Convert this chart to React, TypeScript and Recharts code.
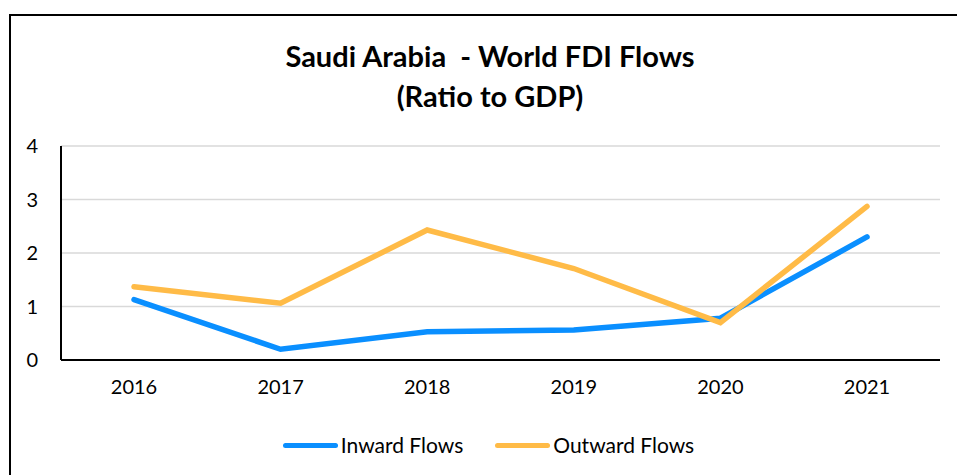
import React from "react";
import { LineChart, Line, XAxis, YAxis, CartesianGrid } from "recharts";

const years = ["2016", "2017", "2018", "2019", "2020", "2021"];
const inwardFlows = [1.13, 0.2, 0.53, 0.56, 0.78, 2.3];
const outwardFlows = [1.37, 1.06, 2.43, 1.71, 0.7, 2.87];
const yTicks = [0, 1, 2, 3, 4];

const data = years.map((y, i) => ({ year: y, inward: inwardFlows[i], outward: outwardFlows[i] }));

const FONT = "Lato, 'Open Sans', sans-serif";
const BLUE = "#0A8FFF";
const ORANGE = "#FFBB47";

const LegendItem = ({ color, label, mr }: { color: string; label: string; mr: number }) => (
  <div style={{ display: "flex", alignItems: "center", marginRight: mr }}>
    <div style={{ width: 55, height: 5, borderRadius: 3, background: color, marginRight: 3 }} />
    <span>{label}</span>
  </div>
);

export default function App() {
  return (
    <div style={{ position: "absolute", left: 0, top: 0, width: 957, height: 475, overflow: "hidden", background: "#fff" }}>
      <div style={{ position: "absolute", left: 9, top: 14, width: 1000, height: 500, borderTop: "2px solid #000", borderLeft: "2px solid #000" }} />
      <div style={{ position: "absolute", left: 0, top: 0 }}>
        <LineChart width={957} height={475} data={data} margin={{ top: 146, right: 17, bottom: 85, left: 0 }}>
          <CartesianGrid horizontal={true} vertical={false} stroke="#D9D9D9" strokeWidth={1.5} />
          <XAxis
            dataKey="year"
            height={30}
            padding={{ left: 73, right: 73 }}
            axisLine={{ stroke: "#000", strokeWidth: 2 }}
            tickLine={false}
            tickSize={0}
            tickMargin={20}
            tick={{ fill: "#000", fontSize: 20, fontFamily: FONT }}
          />
          <YAxis
            width={61}
            domain={[0, 4]}
            ticks={yTicks}
            axisLine={{ stroke: "#000", strokeWidth: 2 }}
            tickLine={false}
            tickSize={0}
            tickMargin={23}
            tick={{ fill: "#000", fontSize: 20, fontFamily: FONT }}
          />
          <Line dataKey="inward" name="Inward Flows" stroke={BLUE} strokeWidth={5.5} dot={false} isAnimationActive={false} strokeLinecap="round" />
          <Line dataKey="outward" name="Outward Flows" stroke={ORANGE} strokeWidth={5.5} dot={false} isAnimationActive={false} strokeLinecap="round" />
        </LineChart>
      </div>
      <div style={{ position: "absolute", left: 0, top: 430, width: 977, display: "flex", justifyContent: "center", alignItems: "center", fontFamily: FONT, fontSize: 21, lineHeight: "30px", color: "#000" }}>
        <LegendItem color={BLUE} label="Inward Flows" mr={32} />
        <LegendItem color={ORANGE} label="Outward Flows" mr={0} />
      </div>
      <div style={{ position: "absolute", left: 0, top: 36, width: 980, textAlign: "center", fontFamily: FONT, fontWeight: 700, fontSize: 29, lineHeight: "40px", color: "#000" }}>
        <div style={{ whiteSpace: "pre" }}>{"Saudi Arabia  - World FDI Flows"}</div>
        <div>(Ratio to GDP)</div>
      </div>
    </div>
  );
}
